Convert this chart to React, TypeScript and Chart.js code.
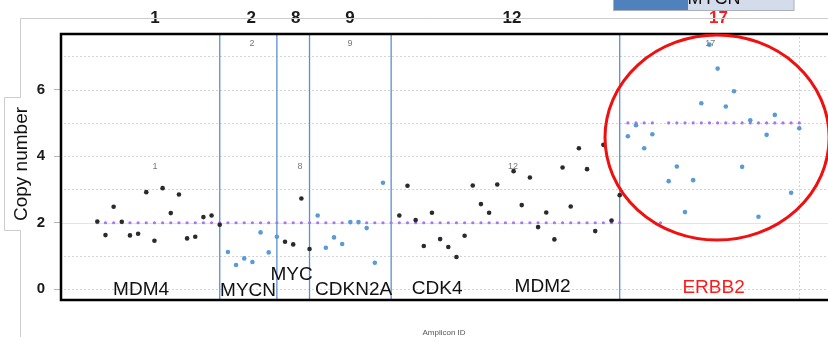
import React, { useEffect, useRef } from "react";
import { Chart, registerables } from "chart.js";

Chart.register(...registerables);

// ---- data (x = amplicon index, y = copy number) ----
const mdm4Values = [2.04, 1.63, 2.48, 2.03, 1.62, 1.67, 2.92, 1.46, 3.04, 2.29, 2.85, 1.53, 1.58, 2.17, 2.22, 1.94];
const mycnValues = [1.12, 0.73, 0.93, 0.82, 1.71, 1.11, 1.58];
const mycValues = [1.43, 1.35, 2.73, 1.21];
const cdkn2aValues = [2.22, 1.25, 1.56, 1.36, 2.02, 2.02, 1.84, 0.8, 3.2, null];
const chr12Values = [2.22, 3.11, 2.08, 1.3, 2.3, 1.51, 1.27, 0.97, 1.61, 3.12, 2.56, 2.3, 3.15, null, 3.55, 2.53, 3.36, 1.87, 2.31, 1.5, 3.66, 2.49, 4.24, 3.61, 1.75, 4.34, 2.07, 2.83];
const erbb2Values = [4.6, 4.93, 4.24, 4.66, null, 3.25, 3.69, 2.32, 3.28, 5.59, 7.35, 6.63, 5.49, 5.95, 3.68, 5.08, 2.18, 4.64, 5.24, null, 2.9, 4.84];

const normalCopy = 2;
const erbb2Expected = [5, 5, 5, 5, 2, 5, 5, 5, 5, 5, 5, 5, 5, 5, 5, 5, 5, 5, 5, 5, 5, 5];

const blackColor = "#2a2a2a";
const blueColor = "#5b9bd5";
const expectedColor = "#a874f0";

// region separators (amplicon index)
const regionBreaks = [15, 22, 26, 36, 64];

// chromosome labels above plot (index positions)
const chromLabels = ["1", "2", "8", "9", "12", "17"];
const chromLabelX = [7.07, 18.85, 24.3, 30.95, 50.8, 76.1];
const chromLabelColors = ["#1a1a1a", "#1a1a1a", "#1a1a1a", "#1a1a1a", "#1a1a1a", "#ff1a1a"];

// small chromosome labels inside plot
const innerLabelX = [7.07, 18.96, 24.84, 30.97, 50.94, 75.1];
const innerLabelY = [3.7, 7.37, 3.7, 7.37, 3.7, 7.37];

// gene labels
const geneNames = ["MDM4", "MYCN", "MYC", "CDKN2A", "CDK4", "MDM2", "ERBB2"];
const geneX = [5.36, 18.47, 23.8, 31.4, 41.63, 54.55, 75.5];
const geneY = [0.0, -0.04, 0.43, 0.0, 0.01, 0.07, 0.05];
const geneColors = ["#111", "#111", "#111", "#111", "#111", "#111", "#ff1a1a"];

const gridValues = [0, 1, 2, 3, 4, 5, 6, 7];
const yTickLabels = [0, 2, 4, 6];

const FONT = "'Liberation Sans', Arial, sans-serif";

const groups = [
  { name: "MDM4", values: mdm4Values, color: blackColor, expected: null as number[] | null },
  { name: "MYCN", values: mycnValues, color: blueColor, expected: null },
  { name: "MYC", values: mycValues, color: blackColor, expected: null },
  { name: "CDKN2A", values: cdkn2aValues, color: blueColor, expected: null },
  { name: "CDK4/MDM2", values: chr12Values, color: blackColor, expected: null },
  { name: "ERBB2", values: erbb2Values, color: blueColor, expected: erbb2Expected },
];

const overlay = {
  id: "overlay",
  beforeDatasetsDraw(chart: any) {
    const { ctx, chartArea: a, scales } = chart;
    const x = scales.x, y = scales.y;
    ctx.save();
    // horizontal grid
    gridValues.forEach((v) => {
      const py = Math.round(y.getPixelForValue(v)) + 0.5;
      ctx.beginPath();
      ctx.lineWidth = 1;
      if (v === 2) {
        ctx.setLineDash([]);
        ctx.strokeStyle = "#e4e4e4";
      } else {
        ctx.setLineDash([2, 2]);
        ctx.strokeStyle = "#d4d4d4";
      }
      ctx.moveTo(a.left, py);
      ctx.lineTo(828, py);
      ctx.stroke();
    });
    // vertical dotted gridline
    const vx = Math.round(x.getPixelForValue(86)) + 0.5;
    ctx.setLineDash([2, 2]);
    ctx.strokeStyle = "#d4d4d4";
    ctx.beginPath();
    ctx.moveTo(vx, a.top);
    ctx.lineTo(vx, a.bottom);
    ctx.stroke();
    ctx.setLineDash([]);
    // region separators
    ctx.strokeStyle = "#5b8fd6";
    ctx.lineWidth = 1.3;
    regionBreaks.forEach((b) => {
      const px = x.getPixelForValue(b);
      ctx.beginPath();
      ctx.moveTo(px, a.top + 2);
      ctx.lineTo(px, a.bottom);
      ctx.stroke();
    });
    ctx.restore();
  },
  afterDatasetsDraw(chart: any) {
    const { ctx, chartArea: a, scales } = chart;
    const x = scales.x, y = scales.y;
    ctx.save();
    // plot border (top, left, bottom)
    ctx.strokeStyle = "#000";
    ctx.lineWidth = 2.5;
    ctx.beginPath();
    ctx.moveTo(830, a.top + 1);
    ctx.lineTo(a.left + 1, a.top + 1);
    ctx.lineTo(a.left + 1, a.bottom);
    ctx.lineTo(830, a.bottom);
    ctx.stroke();

    // inner small labels
    ctx.fillStyle = "#777";
    ctx.font = `9px ${FONT}`;
    ctx.textAlign = "center";
    ctx.textBaseline = "middle";
    chromLabels.forEach((t, i) => {
      ctx.fillText(t, x.getPixelForValue(innerLabelX[i]), y.getPixelForValue(innerLabelY[i]));
    });

    // gene labels
    ctx.font = `19px ${FONT}`;
    geneNames.forEach((t, i) => {
      ctx.fillStyle = geneColors[i];
      ctx.fillText(t, x.getPixelForValue(geneX[i]), y.getPixelForValue(geneY[i]));
    });

    // chromosome labels above plot
    ctx.font = `bold 17px ${FONT}`;
    chromLabels.forEach((t, i) => {
      ctx.fillStyle = chromLabelColors[i];
      ctx.fillText(t, x.getPixelForValue(chromLabelX[i]), a.top - 15);
    });

    // red circle around ERBB2
    const cx = x.getPixelForValue(75.93);
    const cy = y.getPixelForValue(4.56);
    const rx = x.getPixelForValue(75.93 + 13.73) - cx;
    const ry = cy - y.getPixelForValue(4.56 + 3.08);
    ctx.strokeStyle = "#f01010";
    ctx.lineWidth = 3;
    ctx.beginPath();
    ctx.ellipse(cx, cy, rx, ry, 0, 0, Math.PI * 2);
    ctx.stroke();

    // outer frame lines
    ctx.strokeStyle = "#cccccc";
    ctx.lineWidth = 1;
    ctx.beginPath();
    ctx.moveTo(20.5, 337);
    ctx.lineTo(20.5, 230.5);
    ctx.moveTo(20.5, 97.5);
    ctx.lineTo(20.5, 18.5);
    ctx.lineTo(828, 18.5);
    ctx.stroke();
    // y title box
    ctx.beginPath();
    ctx.moveTo(20.5, 97.5);
    ctx.lineTo(4.5, 97.5);
    ctx.lineTo(4.5, 230.5);
    ctx.lineTo(20.5, 230.5);
    ctx.stroke();
    ctx.save();
    ctx.translate(21.5, 164);
    ctx.rotate(-Math.PI / 2);
    ctx.fillStyle = "#111";
    ctx.font = `19px ${FONT}`;
    ctx.textAlign = "center";
    ctx.textBaseline = "middle";
    ctx.fillText("Copy number", 0, 0);
    ctx.restore();

    // legend fragment at top
    ctx.fillStyle = "#4f81bd";
    ctx.fillRect(613, 0, 75, 10);
    ctx.fillStyle = "#d4dcec";
    ctx.fillRect(688, 0, 106, 10);
    ctx.strokeStyle = "#a9b0bd";
    ctx.strokeRect(613.5, -1, 180.5, 11.5);
    ctx.fillStyle = "#111";
    ctx.font = `18px ${FONT}`;
    ctx.textAlign = "center";
    ctx.textBaseline = "alphabetic";
    ctx.fillText("MYCN", 714, 4);

    // x title
    ctx.fillStyle = "#555";
    ctx.font = `8px ${FONT}`;
    ctx.textBaseline = "middle";
    ctx.fillText("Amplicon ID", 444, 333);
    ctx.restore();
  },
};

export default function App() {
  const ref = useRef<HTMLCanvasElement>(null);
  useEffect(() => {
    document.body.style.margin = "0";
    const canvas = ref.current!;
    const datasets: any[] = [];
    const expected: { x: number; y: number }[] = [];
    let start = 0;
    groups.forEach((g) => {
      const pts: { x: number; y: number }[] = [];
      g.values.forEach((v, i) => {
        if (v !== null) pts.push({ x: start + i, y: v as number });
        expected.push({ x: start + i, y: g.expected ? g.expected[i] : normalCopy });
      });
      datasets.push({
        label: g.name,
        data: pts,
        backgroundColor: g.color,
        borderColor: g.color,
        pointRadius: 2.3,
        pointBorderWidth: 0,
        showLine: false,
        order: 0,
      });
      start += g.values.length;
    });
    datasets.push({
      label: "expected",
      data: expected,
      backgroundColor: expectedColor,
      borderColor: expectedColor,
      pointRadius: 1.6,
      pointBorderWidth: 0,
      showLine: false,
      order: 1,
    });

    const chart = new Chart(canvas, {
      type: "scatter",
      data: { datasets },
      options: {
        animation: false,
        responsive: false,
        devicePixelRatio: 1,
        layout: { padding: { top: 33, bottom: 37, left: 0, right: 0 } },
        plugins: { legend: { display: false }, tooltip: { enabled: false } },
        scales: {
          x: { type: "linear", min: -4.57, max: 89.03, display: false },
          y: {
            type: "linear",
            min: -0.32,
            max: 7.7,
            afterFit: (s: any) => {
              s.width = 60;
            },
            afterBuildTicks: (s: any) => {
              s.ticks = yTickLabels.map((v) => ({ value: v }));
            },
            border: { display: false },
            grid: {
              display: true,
              drawOnChartArea: false,
              drawTicks: true,
              tickLength: 6,
              color: "#b5b5b5",
            },
            ticks: {
              padding: 9,
              color: "#1a1a1a",
              font: { family: FONT, size: 15, weight: "bold" },
              callback: (v: any) => String(v),
            },
          },
        },
      },
      plugins: [overlay],
    });
    return () => chart.destroy();
  }, []);
  return <canvas ref={ref} width={828} height={337} style={{ display: "block" }} />;
}
